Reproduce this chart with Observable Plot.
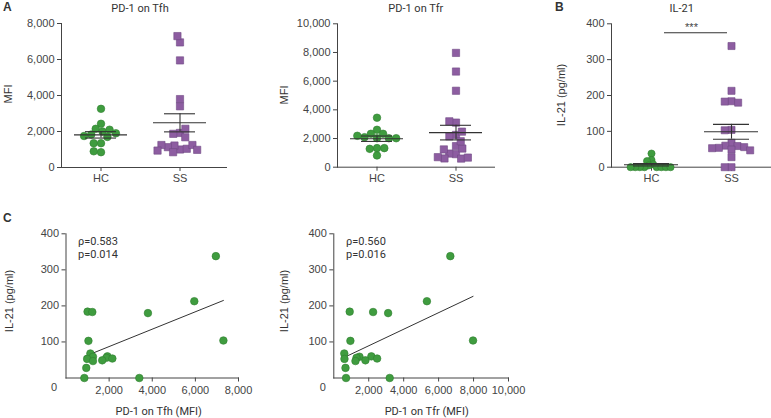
<!DOCTYPE html>
<html><head><meta charset="utf-8">
<script src="https://cdn.jsdelivr.net/npm/d3@7"></script>
<script src="https://cdn.jsdelivr.net/npm/@observablehq/plot@0.6"></script>
<style>
body{margin:0;background:#fff;}
#chart{position:relative;width:771px;height:418px;overflow:hidden;font-family:"Liberation Sans",Arial,sans-serif;color:#333;}
.panel{position:absolute;}
.panel svg{overflow:visible;}
.t{position:absolute;white-space:nowrap;font-size:11px;line-height:1;}
.c{transform:translate(-50%,-50%);}
.l{transform:translate(0,-50%);}
.r{transform:translate(-50%,-50%) rotate(-90deg);}
.soft{font-family:Roboto,"Open Sans",sans-serif;}
.letter{font-weight:bold;font-size:12px;font-family:"Liberation Sans",Arial,sans-serif;}
</style></head><body><div id="chart"></div>
<script>
// ---------------- data ----------------
const groups = ["HC", "SS"];
const panelTitles = ["PD-1 on Tfh", "PD-1 on Tfr", "IL-21"];
const panelLetters = ["A", "B", "C"];
const yLabels = ["MFI", "MFI", "IL-21 (pg/ml)"];
const corrXLabels = ["PD-1 on Tfh (MFI)", "PD-1 on Tfr (MFI)"];
const rho = ["0.583", "0.560"];
const pval = ["0.014", "0.016"];
const sigLabel = "***";
const sigLevel = [375];

// healthy controls (13)
const hcTfh = [3260, 2430, 2150, 2000, 2100, 1830, 1900, 1750, 1700, 1350, 1350, 850, 900];
const hcTfr = [3450, 2610, 2330, 2330, 2090, 2020, 2020, 2020, 2190, 1330, 1280, 1330, 820];
const hcIL21 = [38, 20, 17, 8, 5, 0, 0, 0, 0, 0, 0, 0, 0];
// SS patients (18), paired by subject
const ssTfh = [6950, 5950, 1000, 1220, 3800, 7300, 1040, 1130, 1920, 1250, 1870, 2150, 980, 1680, 1250, 940, 3400, 850];
const ssTfr = [6670, 5330, 910, 2250, 3110, 7970, 950, 600, 2150, 1470, 1300, 2480, 610, 1810, 1240, 670, 3200, 700];
const ssIL21 = [338, 213, 184, 183, 180, 104, 103, 68, 60, 59, 56, 54, 53, 49, 47, 28, 0, 0];

const mfiTicksTfh = [0, 2000, 4000, 6000, 8000];
const mfiTicksTfr = [0, 2000, 4000, 6000, 8000, 10000];
const ilTicks = [0, 100, 200, 300, 400];

// ---------------- style ----------------
const green = "#3f9c3f", greenDark = "#2f7f2f";
const purple = "#8d5da1", purpleDark = "#714a85";
const ink = "#444";
const fmt = d3.format(",");
const chart = document.getElementById("chart");

function place(node, left, top) {
  const d = document.createElement("div");
  d.className = "panel";
  d.style.left = left + "px"; d.style.top = top + "px";
  d.appendChild(node); chart.appendChild(d);
}
function label(text, x, y, cls) {
  const d = document.createElement("div");
  d.className = "t " + cls;
  d.textContent = text;
  d.style.left = x + "px"; d.style.top = y + "px";
  chart.appendChild(d);
}

function groupPanel({hc, ss, ticks, width, height, marginLeft, marginTop, marginBottom, bw, extendRight,
                     rC, padC, rS, padS, capInset, sig}) {
  const rows = [...hc.map(v => ({g: "HC", v})), ...ss.map(v => ({g: "SS", v}))];
  const stats = groups.map(g => {
    const vals = rows.filter(d => d.g === g).map(d => d.v);
    const m = d3.mean(vals), se = d3.deviation(vals) / Math.sqrt(vals.length);
    return {g, mean: m, lo: m - se, hi: m + se};
  });
  const marks = [
    Plot.ruleY([0], {stroke: ink, insetRight: -extendRight}),
    Plot.dot(rows.filter(d => d.g === "HC"), Plot.dodgeX({anchor: "middle", padding: padC},
      {fx: "g", y: "v", r: rC, fill: green, stroke: greenDark, strokeWidth: 0.6})),
    Plot.dot(rows.filter(d => d.g === "SS"), Plot.dodgeX({anchor: "middle", padding: padS},
      {fx: "g", y: "v", r: rS, symbol: "square", fill: purple, stroke: purpleDark, strokeWidth: 0.6})),
    Plot.tickY(stats, {fx: "g", y: "mean", insetLeft: 13, insetRight: 13, stroke: "#333", strokeWidth: 1.1}),
    Plot.tickY(stats, {fx: "g", y: "lo", insetLeft: capInset, insetRight: capInset, stroke: "#333", strokeWidth: 1.1}),
    Plot.tickY(stats, {fx: "g", y: "hi", insetLeft: capInset, insetRight: capInset, stroke: "#333", strokeWidth: 1.1}),
    Plot.ruleX(stats, {fx: "g", x: null, y1: "lo", y2: "hi", stroke: "#333", strokeWidth: 1.1})
  ];
  if (sig) {
    const sd = sig.levels.map(y => ({g: "HC", y, text: sig.text}));
    marks.push(Plot.ruleY(sd, {fx: "g", y: "y", insetLeft: 53, insetRight: -36, stroke: "#333"}));
    marks.push(Plot.text(sd, {fx: "g", y: "y", text: "text", dx: 40, dy: -5, fontSize: 11}));
  }
  return Plot.plot({
    width, height, marginLeft, marginTop, marginBottom,
    marginRight: width - marginLeft - 2 * bw,
    style: {fontFamily: '"Liberation Sans", Arial, sans-serif', fontSize: "11px", color: ink, background: "transparent"},
    fx: {domain: groups, padding: 0, axis: "bottom", label: null, tickSize: 4, tickPadding: 3},
    y: {domain: [0, ticks[ticks.length - 1]], ticks, tickFormat: fmt, label: null, line: true, tickSize: 4, tickPadding: 3},
    marks
  });
}

function corrPanel({xs, ys, xTicks, width, height, marginLeft, marginRight, marginTop, marginBottom, zeroDx}) {
  const rows = xs.map((x, i) => ({x, y: ys[i]}));
  return Plot.plot({
    width, height, marginLeft, marginRight, marginTop, marginBottom,
    style: {fontFamily: '"Liberation Sans", Arial, sans-serif', fontSize: "11px", color: ink, background: "transparent"},
    x: {domain: [0, xTicks[xTicks.length - 1]], ticks: xTicks.slice(1), tickFormat: fmt, line: true, label: null, tickSize: 4, tickPadding: 4},
    y: {domain: [0, ilTicks[ilTicks.length - 1]], ticks: ilTicks.slice(1), line: true, label: null, tickSize: 4, tickPadding: 3},
    marks: [
      Plot.linearRegressionY(rows, {x: "x", y: "y", ci: 0, stroke: "#333", strokeWidth: 1}),
      Plot.dot(rows, {x: "x", y: "y", r: 3.8, fill: green, stroke: greenDark, strokeWidth: 0.6}),
      Plot.text([xTicks[0]], {x: d => d, text: d => fmt(d), frameAnchor: "bottom", dy: 13, dx: zeroDx, fontSize: 11})
    ]
  });
}

// ---------------- panels ----------------
place(groupPanel({hc: hcTfh, ss: ssTfh, ticks: mfiTicksTfh, width: 240, height: 192,
  marginLeft: 61, marginTop: 23, marginBottom: 25, bw: 79, extendRight: 8,
  rC: 3.8, padC: -0.3, rS: 4.1, padS: -1.4, capInset: 24}), 0, 0);

place(groupPanel({hc: hcTfr, ss: ssTfr, ticks: mfiTicksTfr, width: 250, height: 192,
  marginLeft: 77, marginTop: 23.3, marginBottom: 25.3, bw: 79, extendRight: 0,
  rC: 3.8, padC: -0.3, rS: 4.1, padS: -1.4, capInset: 24}), 260, 0);

place(groupPanel({hc: hcIL21, ss: ssIL21, ticks: ilTicks, width: 251, height: 192,
  marginLeft: 91, marginTop: 23.3, marginBottom: 25.3, bw: 80, extendRight: 0,
  rC: 3.6, padC: -2.6, rS: 4, padS: -1.2, capInset: 22, sig: {levels: sigLevel, text: sigLabel}}), 520, 0);

place(corrPanel({xs: ssTfh, ys: ssIL21, xTicks: mfiTicksTfh, width: 260, height: 223,
  marginLeft: 65.5, marginRight: 22, marginTop: 38.3, marginBottom: 40.5, zeroDx: -12}), 0, 195);

place(corrPanel({xs: ssTfr, ys: ssIL21, xTicks: mfiTicksTfr, width: 260, height: 223,
  marginLeft: 63.3, marginRight: 22, marginTop: 38.3, marginBottom: 40.5, zeroDx: -11}), 270, 195);

// ---------------- text ----------------
label(panelLetters[0], 3, 1, "letter");
label(panelLetters[1], 555, 1, "letter");
label(panelLetters[2], 3, 212, "letter");
label(panelTitles[0], 140, 7.5, "c soft");
label(panelTitles[1], 415.8, 7.5, "c soft");
label(panelTitles[2], 681.7, 7.5, "c soft");
label(yLabels[0], 8, 94, "r");
label(yLabels[1], 284, 95, "r");
label(yLabels[2], 561, 95, "r");
label(yLabels[2], 9, 301, "r");
label(yLabels[2], 283.5, 301, "r");
label(corrXLabels[0], 158.7, 410.5, "c soft");
label(corrXLabels[1], 426.7, 410.5, "c soft");
label("\u03c1=" + rho[0], 78, 241, "l soft");
label("p=" + pval[0], 78, 254, "l soft");
label("\u03c1=" + rho[1], 346, 241, "l soft");
label("p=" + pval[1], 346, 254, "l soft");
</script></body></html>
